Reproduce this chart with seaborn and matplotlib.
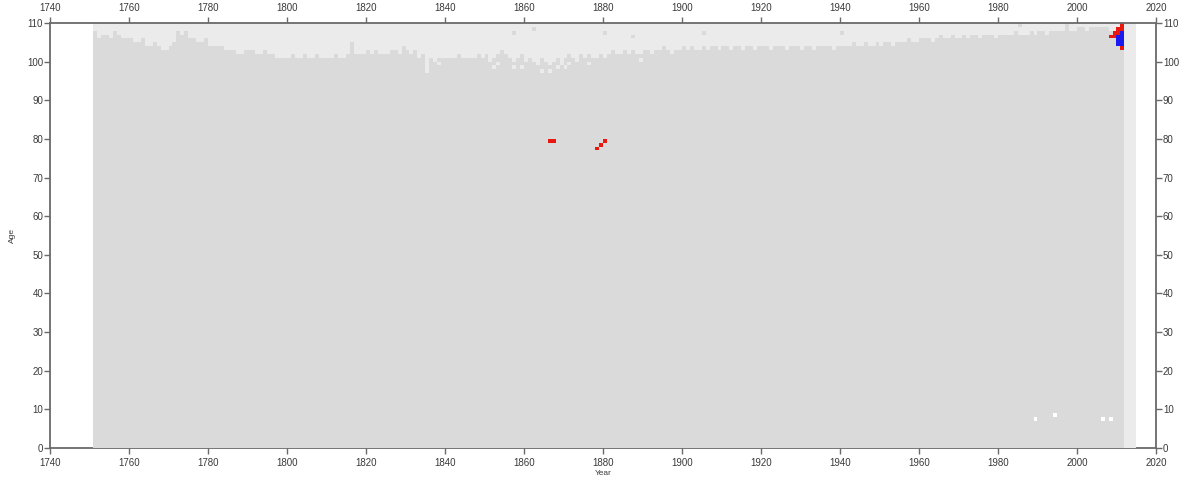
import numpy as np
import pandas as pd
import matplotlib
matplotlib.use("Agg")
import matplotlib.pyplot as plt
from matplotlib.colors import ListedColormap
import seaborn as sns

# ---------------- data ----------------
first_year = 1751
last_data_year = 2011
pad_years = [2012, 2013, 2014]          # full-height light columns at the right
n_ages = 110

# upper edge (age) of the grey "available" block, one value per year 1751..2011
top_age = [
    108, 106, 107, 107, 106, 108, 107, 106, 106, 106,   # 1751-1760
    105, 105, 106, 104, 104, 105, 104, 103, 103, 104,   # 1761-1770
    105, 108, 107, 108, 106, 106, 105, 105, 106, 104,   # 1771-1780
    104, 104, 104, 103, 103, 103, 102, 102, 103, 103,   # 1781-1790
    103, 102, 102, 103, 102, 102, 101, 101, 101, 101,   # 1791-1800
    102, 101, 101, 102, 101, 101, 102, 101, 101, 101,   # 1801-1810
    101, 102, 101, 101, 102, 105, 102, 102, 102, 103,   # 1811-1820
    102, 103, 102, 102, 102, 103, 103, 102, 104, 103,   # 1821-1830
    102, 103, 101, 102, 98, 101, 100, 101, 101, 101,    # 1831-1840
    101, 101, 102, 101, 101, 101, 101, 102, 101, 102,   # 1841-1850
    100, 101, 102, 103, 102, 101, 100, 101, 102, 100,   # 1851-1860
    101, 100, 99, 101, 100, 99, 100, 101, 99, 101,      # 1861-1870
    102, 101, 100, 102, 101, 102, 101, 101, 102, 101,   # 1871-1880
    102, 103, 102, 102, 103, 102, 103, 102, 102, 103,   # 1881-1890
    103, 102, 103, 103, 104, 103, 102, 103, 103, 104,   # 1891-1900
    103, 104, 103, 103, 104, 103, 104, 104, 103, 104,   # 1901-1910
    104, 103, 104, 104, 103, 104, 104, 103, 104, 104,   # 1911-1920
    104, 103, 104, 104, 104, 103, 104, 104, 104, 103,   # 1921-1930
    104, 104, 103, 104, 104, 104, 104, 103, 104, 104,   # 1931-1940
    104, 104, 105, 104, 104, 105, 104, 104, 105, 104,   # 1941-1950
    105, 105, 104, 105, 105, 105, 106, 105, 105, 106,   # 1951-1960
    106, 106, 105, 106, 107, 106, 106, 107, 106, 106,   # 1961-1970
    107, 106, 107, 107, 106, 107, 107, 107, 106, 107,   # 1971-1980
    107, 107, 107, 108, 107, 107, 107, 108, 107, 108,   # 1981-1990
    108, 107, 108, 108, 108, 108, 109, 108, 108, 109,   # 1991-2000
    109, 108, 109, 109, 109, 109, 109, 108, 108, 108, 108,  # 2001-2011
]

# light gaps inside the grey block (year, age)
gap_cells = [(1835, 98), (1835, 97), (1838, 99), (1852, 98), (1853, 99),
             (1857, 98), (1859, 98), (1864, 97), (1866, 97), (1868, 98),
             (1870, 98), (1871, 99), (1876, 99), (1889, 100)]
# isolated grey cells above the block (year, age)
extra_cells = [(1857, 107), (1862, 108), (1880, 107), (1887, 106),
               (1905, 107), (1940, 107), (1985, 109), (1997, 109)]
# red cells (year, age)
red_cells = [(1866, 79), (1867, 79), (1878, 77), (1879, 78), (1880, 79),
             (2008, 106), (2009, 106), (2009, 107), (2010, 107), (2010, 108),
             (2011, 109), (2011, 108), (2011, 103)]
# blue cells (year, age)
blue_cells = [(2010, 104), (2010, 105), (2010, 106),
              (2011, 104), (2011, 105), (2011, 106), (2011, 107)]
# white cells (year, age)
white_cells = [(1989, 7), (1994, 8), (2006, 7), (2008, 7)]

x_ticks = [1740, 1760, 1780, 1800, 1820, 1840, 1860, 1880, 1900,
           1920, 1940, 1960, 1980, 2000, 2020]
y_ticks = [0, 10, 20, 30, 40, 50, 60, 70, 80, 90, 100, 110]

# ---------------- build grid ----------------
years = list(range(first_year, pad_years[-1] + 1))
ages = list(range(n_ages))
LIGHT, GREY, RED, BLUE, WHITE = 0, 1, 2, 3, 4
grid = np.full((n_ages, len(years)), LIGHT, dtype=float)
for j, top in enumerate(top_age):
    grid[:top, j] = GREY
def put(cells, val):
    for yr, ag in cells:
        grid[ag, yr - first_year] = val
put(gap_cells, LIGHT)
put(extra_cells, GREY)
put(red_cells, RED)
put(blue_cells, BLUE)
put(white_cells, WHITE)
df = pd.DataFrame(grid, index=ages, columns=years)

cmap = ListedColormap(["#ebebeb", "#dadada", "#e8170f", "#1a1aee", "#ffffff"])

# ---------------- plot ----------------
sns.set_style("white")
plt.rcParams["font.family"] = ["Liberation Sans", "DejaVu Sans"]

fig = plt.figure(figsize=(11.91, 4.83), dpi=100)
ax = fig.add_axes([0.042, 0.0725, 0.9286, 0.8799])

sns.heatmap(df, ax=ax, cmap=cmap, vmin=-0.5, vmax=4.5, cbar=False,
            linewidths=0, xticklabels=False, yticklabels=False)
for coll in ax.collections:
    coll.set_zorder(3)
    coll.set_antialiased(False)

ax.set_xlim(1740 - first_year, 2020 - first_year)
ax.set_ylim(0, 110)

spine_col = "#6a6a6a"
for name, sp in ax.spines.items():
    sp.set_visible(True)
    sp.set_color(spine_col)
    sp.set_linewidth(1.3)
ax.spines["top"].set_zorder(5)
ax.spines["bottom"].set_zorder(2)

ax.set_xticks([y - first_year for y in x_ticks])
ax.set_xticklabels([str(y) for y in x_ticks])
ax.set_yticks(y_ticks)
ax.set_yticklabels([str(a) for a in y_ticks], rotation=0)
ax.tick_params(axis="both", which="both", direction="out", length=4,
               width=1, color=spine_col, labelsize=7, labelcolor="#3a3a3a",
               top=True, labeltop=True, right=True, labelright=True,
               bottom=True, left=True, labelbottom=True, labelleft=True)
ax.tick_params(axis="x", pad=3.5)
ax.tick_params(axis="y", pad=1)

ax.set_xlabel("Year", fontsize=6, color="#3a3a3a", labelpad=1)
ax.set_ylabel("Age", fontsize=6, color="#3a3a3a", labelpad=8)

fig.savefig("out.png", dpi=100, facecolor="white")
